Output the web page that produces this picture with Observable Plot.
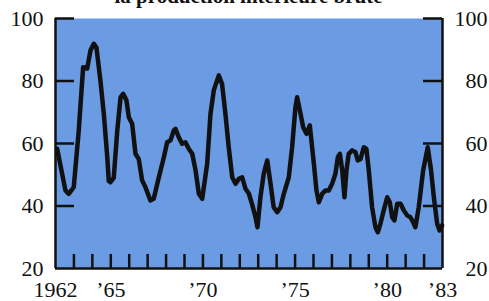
<!DOCTYPE html>
<html>
<head>
<meta charset="utf-8">
<script src="https://cdn.jsdelivr.net/npm/d3@7"></script>
<script src="https://cdn.jsdelivr.net/npm/@observablehq/plot@0.6"></script>
<style>
  html, body { margin: 0; padding: 0; background: #fff; overflow: hidden; }
  #wrap { position: relative; width: 489px; height: 301px; }
  #title { position: absolute; left: 0; width: 497px; top: -14px; text-align: center;
    font-family: "Liberation Serif", serif; font-weight: bold; font-size: 21px; color: #111; line-height: 21px; }
</style>
</head>
<body>
<div id="wrap"><div id="title">la production intérieure brute</div></div>
<script>
const titleText = "la production intérieure brute";
const years = [1962.09,1962.54,1962.72,1962.99,1963.26,1963.50,1963.72,1963.90,1964.08,1964.22,1964.44,1964.62,1964.81,1964.89,1964.98,1965.16,1965.35,1965.53,1965.67,1965.85,1965.98,1966.16,1966.34,1966.52,1966.70,1966.88,1967.15,1967.33,1967.60,1967.88,1968.06,1968.24,1968.42,1968.51,1968.69,1968.87,1969.05,1969.23,1969.42,1969.60,1969.78,1969.96,1970.23,1970.41,1970.59,1970.86,1971.04,1971.22,1971.40,1971.59,1971.77,1971.95,1972.13,1972.31,1972.49,1972.67,1972.85,1972.96,1973.12,1973.30,1973.49,1973.67,1973.84,1974.03,1974.21,1974.39,1974.66,1974.84,1975.02,1975.11,1975.26,1975.44,1975.62,1975.80,1976.02,1976.16,1976.29,1976.47,1976.65,1976.83,1977.01,1977.19,1977.32,1977.43,1977.56,1977.68,1977.79,1977.91,1978.10,1978.28,1978.40,1978.55,1978.73,1978.87,1979.00,1979.18,1979.36,1979.49,1979.63,1979.81,1980.00,1980.14,1980.27,1980.39,1980.54,1980.72,1980.90,1981.08,1981.26,1981.41,1981.53,1981.71,1981.95,1982.20,1982.38,1982.53,1982.71,1982.84,1982.98];
const values = [58.3,45,43.9,46,64,84.4,84,89.8,91.9,90.8,80,69.6,55.6,48,47.6,49,64,74.8,75.9,73.8,68.4,66.3,56.7,55,48.2,46,41.8,42.3,49,55.6,60.4,61,64.2,64.7,62,59.9,60.4,58.3,56.7,51.4,43.9,42.3,53.5,69.5,77,81.8,79,69.5,58.8,49.2,47.1,48.7,49.2,45.5,44,40.5,36.5,33.2,42.8,50.3,54.6,47.1,39.6,38,39.6,43.9,49.2,58.8,71.6,74.8,70.6,65.2,63.1,65.8,53.5,45,41.2,43.9,45,45,47.1,50.3,55.6,56.7,51.4,42.8,51.4,56.7,57.8,57.2,54.6,55,58.8,58.3,51.4,39.6,33.2,31.6,34.3,38.6,42.8,41.2,36.4,35.4,40.7,40.7,38.6,37,36.4,34.8,33.2,39.6,51.4,58.8,51.4,42.8,34.3,32.2,33.8];
const xLabelYears = [1962, 1965, 1970, 1975, 1980, 1983];
const xLabels = ["1962", "’65", "’70", "’75", "’80", "’83"];
const yearTicks = [1963,1964,1965,1966,1967,1968,1969,1970,1971,1972,1973,1974,1975,1976,1977,1978,1979,1980,1981,1982];
const yTicks = [20, 40, 60, 80, 100];
const innerYTicks = [40, 60, 80, 100];

const data = years.map((y, i) => ({year: y, value: values[i]}));
const font = "Liberation Serif";

const chart = Plot.plot({
  width: 489,
  height: 301,
  marginTop: 18,
  marginBottom: 33,
  marginLeft: 55,
  marginRight: 47,
  style: {fontFamily: font, background: "transparent", color: "#111"},
  x: {domain: [1962, 1983], axis: null},
  y: {domain: [20, 100], axis: null},
  marks: [
    Plot.frame({fill: "#6a9be3", stroke: null}),
    Plot.ruleX(yearTicks, {stroke: "#111", strokeWidth: 2.5, insetTop: 236}),
    Plot.ruleY(innerYTicks, {stroke: "#111", strokeWidth: 2.5, insetRight: 368}),
    Plot.ruleY(innerYTicks, {stroke: "#111", strokeWidth: 2.5, insetLeft: 368}),
    Plot.line(data, {x: "year", y: "value", stroke: "#111", strokeWidth: 4.5, strokeLinejoin: "round", strokeLinecap: "round"}),
    Plot.ruleX([1962, 1983], {stroke: "#111", strokeWidth: 2.5}),
    Plot.ruleY([20], {stroke: "#111", strokeWidth: 2.5}),
    Plot.axisY(yTicks, {anchor: "left", label: null, tickSize: 0, tickPadding: 12, fontSize: 22, fontFamily: font}),
    Plot.axisY(yTicks, {anchor: "right", label: null, tickSize: 0, tickPadding: 45, textAnchor: "end", fontSize: 22, fontFamily: font}),
    Plot.axisX(xLabelYears, {anchor: "bottom", label: null, tickSize: 0, tickPadding: 13, fontSize: 22, fontFamily: font,
      tickFormat: (d) => xLabels[xLabelYears.indexOf(d)]})
  ]
});
document.getElementById("wrap").appendChild(chart);
document.getElementById("title").textContent = titleText;
</script>
</body>
</html>
